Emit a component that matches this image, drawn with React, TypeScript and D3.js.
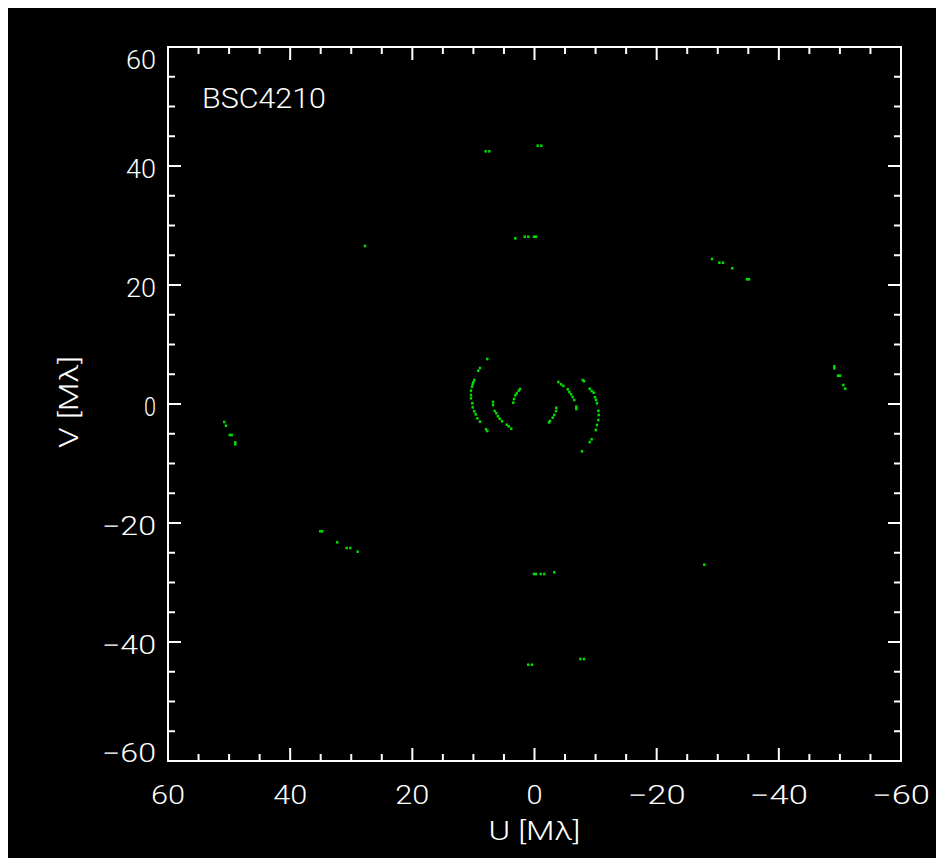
import React from "react";
import * as d3 from "d3";

// ---- data (u, v in Mλ) ----
const majorTicks = [60, 40, 20, 0, -20, -40, -60];
const minorTicks = [55, 50, 45, 35, 30, 25, 15, 10, 5, -5, -10, -15, -25, -30, -35, -45, -50, -55];
const chartTitle = "BSC4210";
const xTitle = "U [Mλ]";
const yTitle = "V [Mλ]";

// long-baseline points
const farU = [7.99, 7.40, -0.52, -1.11, 3.14, 1.60, 1.02, 0.08, -0.25, 27.75,
  -29.06, -30.26, -30.86, -32.38, -34.79, -35.12,
  -49.08, -49.08, -49.69, -50.02, -50.56, -50.88,
  50.79, 50.51, 49.90, 49.57, 48.99, 48.99,
  35.07, 34.74, 32.29, 30.75, 30.16, 28.95,
  0.08, -0.25, -1.02, -1.60, -3.24, -27.80,
  1.02, 0.41, -7.50, -8.10];
const farV = [42.47, 42.47, 43.41, 43.41, 27.85, 28.12, 28.12, 28.12, 28.12, 26.55,
  24.37, 23.75, 23.75, 22.81, 20.96, 20.96,
  6.34, 6.00, 4.76, 4.76, 3.19, 2.57,
  -3.03, -3.65, -5.21, -5.21, -6.44, -6.77,
  -21.39, -21.39, -23.24, -24.20, -24.20, -24.82,
  -28.57, -28.57, -28.57, -28.57, -28.29, -27.01,
  -43.82, -43.82, -42.86, -42.86];

// short-baseline arcs near the origin
const arcU = [
  7.73, 8.92, 9.20, 9.86, 10.02, 10.12, 10.23, 10.40, 10.40, 10.40, 10.18, 10.12, 9.86, 9.63, 9.36, 8.92, 7.94, 7.73,
  2.37, 2.59, 2.91, 3.14, 3.36, 3.47,
  6.79, 6.79, 6.52, 6.25, 5.98, 5.70, 5.32, 4.55, 4.22, 3.80,
  -3.90, -4.34, -4.72, -5.44, -5.70, -5.98, -6.25, -6.52, -6.84, -6.84,
  -3.57, -3.52, -3.24, -2.98, -2.54, -2.37,
  -7.89, -8.10, -9.04, -9.36, -9.69, -9.90, -10.07, -10.23, -10.45, -10.51, -10.45, -10.23, -10.02, -9.36, -9.04, -7.78];
const arcV = [
  7.56, 6.05, 5.60, 4.03, 3.65, 3.31, 2.91, 2.24, 1.51, 0.96, 0.12, -0.55, -1.23, -1.73, -2.40, -2.97, -4.25, -4.54,
  2.52, 2.24, 1.80, 1.46, 0.84, 0.22,
  0.34, -0.17, -1.18, -1.56, -2.07, -2.47, -2.91, -3.48, -3.75, -4.15,
  3.70, 3.31, 3.03, 2.47, 2.02, 1.63, 1.18, 0.67, -0.45, -0.84,
  -0.62, -1.18, -1.85, -2.30, -2.86, -3.08,
  4.03, 3.82, 2.57, 2.18, 1.90, 1.13, 0.67, 0.12, -1.13, -1.85, -2.69, -3.53, -4.37, -5.93, -6.39, -7.95];

const W = 928;
const H = 850;
const box = { left: 160, right: 893, top: 39, bottom: 753 };
const FONT = "Roboto, 'Liberation Sans', sans-serif";

function fmt(t: number) {
  return t < 0 ? "\u2212" + Math.abs(t) : String(t);
}

export default function App() {
  const x = d3.scaleLinear().domain([60, -60]).range([box.left, box.right]);
  const y = d3.scaleLinear().domain([60, -60]).range([box.top, box.bottom]);
  const points = [
    ...farU.map((u, i) => ({ u, v: farV[i] })),
    ...arcU.map((u, i) => ({ u, v: arcV[i] })),
  ];
  const majorLen = 13;
  const minorLen = 7;
  const stroke = "#ffffff";
  const labelW = (t: number) => (t < 0 ? 58 : t === 0 ? 16 : 34);

  return (
    <svg width={W} height={H} style={{ display: "block", background: "#000" }}>
      <rect x={0} y={0} width={W} height={H} fill="#000" />
      {/* data */}
      <g fill="#00e000">
        {points.map((p, i) => (
          <rect key={i} x={x(p.u) - 1.2} y={y(p.v) - 1.3} width={2.4} height={2.6} />
        ))}
      </g>
      {/* axes box and ticks */}
      <g stroke={stroke} strokeWidth={2} fill="none">
        <rect x={box.left} y={box.top} width={box.right - box.left} height={box.bottom - box.top} />
        {majorTicks.map((t) => (
          <g key={"mx" + t}>
            <line x1={x(t)} x2={x(t)} y1={box.bottom} y2={box.bottom - majorLen} />
            <line x1={x(t)} x2={x(t)} y1={box.top} y2={box.top + majorLen} />
            <line y1={y(t)} y2={y(t)} x1={box.left} x2={box.left + majorLen} />
            <line y1={y(t)} y2={y(t)} x1={box.right} x2={box.right - majorLen} />
          </g>
        ))}
        {minorTicks.map((t) => (
          <g key={"mn" + t}>
            <line x1={x(t)} x2={x(t)} y1={box.bottom} y2={box.bottom - minorLen} />
            <line x1={x(t)} x2={x(t)} y1={box.top} y2={box.top + minorLen} />
            <line y1={y(t)} y2={y(t)} x1={box.left} x2={box.left + minorLen} />
            <line y1={y(t)} y2={y(t)} x1={box.right} x2={box.right - minorLen} />
          </g>
        ))}
      </g>
      {/* tick labels */}
      <g fill={stroke} fontFamily={FONT} fontWeight={300} fontSize={25}>
        {majorTicks.map((t) => (
          <text key={"lx" + t} x={x(t)} y={box.bottom + 43} textAnchor="middle"
            textLength={labelW(t)} lengthAdjust="spacingAndGlyphs">{fmt(t)}</text>
        ))}
        {majorTicks.map((t) => {
          const cy = Math.min(Math.max(y(t) + 3, box.top + 13), box.bottom - 8);
          return (
            <text key={"ly" + t} x={box.left - 12} y={cy + 9} textAnchor="end"
              textLength={labelW(t) - 4} lengthAdjust="spacingAndGlyphs">{fmt(t)}</text>
          );
        })}
        <text x={x(0)} y={box.bottom + 79} textAnchor="middle" textLength={92}
          lengthAdjust="spacingAndGlyphs">{xTitle}</text>
        <text transform={`translate(${62 + 8 - 8 + 8},${y(0) - 2}) rotate(-90)`} textAnchor="middle"
          textLength={92} lengthAdjust="spacingAndGlyphs">{yTitle}</text>
        <text x={box.left + 34} y={box.top + 61} fontSize={27} textLength={124}
          lengthAdjust="spacingAndGlyphs">{chartTitle}</text>
      </g>
    </svg>
  );
}
